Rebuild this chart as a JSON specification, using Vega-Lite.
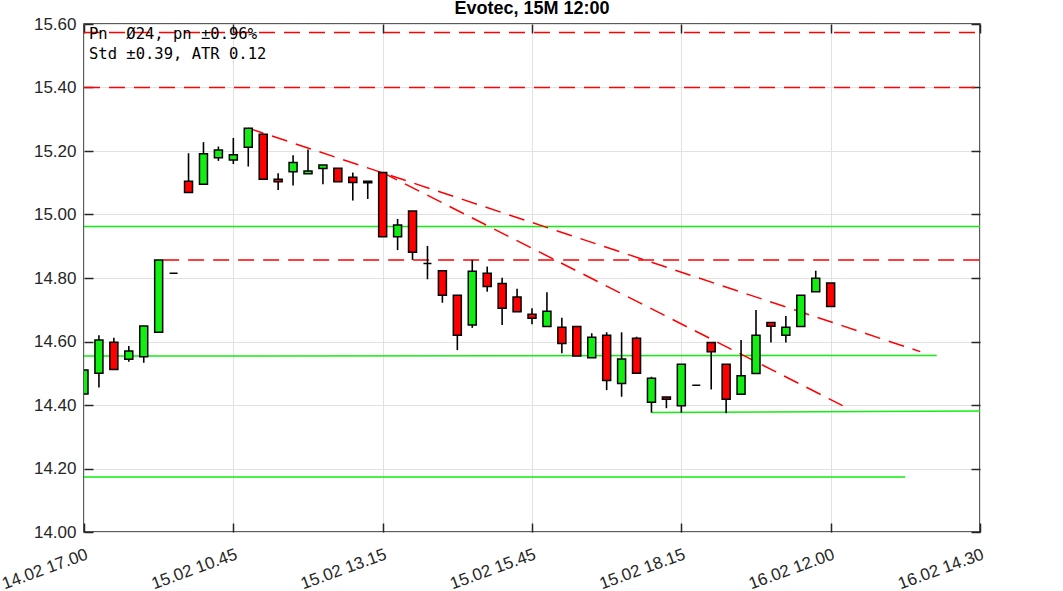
{
  "$schema": "https://vega.github.io/schema/vega-lite/v6.json",
  "autosize": "none",
  "width": 896,
  "height": 508,
  "padding": {"left": 84, "top": 24, "right": 83, "bottom": 59},
  "background": "white",
  "config": {
    "view": {"stroke": "#262626", "strokeWidth": 1.5},
    "axis": {"labelFont": "Liberation Sans", "labelFontSize": 17, "labelColor": "#262626", "tickColor": "#262626", "tickWidth": 1.5, "domain": false, "gridColor": "#e2e2e2", "gridWidth": 1, "title": null}
  },
  "title": {"text": "Evotec, 15M 12:00", "font": "Liberation Sans", "fontSize": 18, "fontWeight": "bold", "color": "black", "anchor": "middle", "offset": -3},
  "datasets": {
    "candles": [
      {"i": 0, "o": 14.435, "h": 14.51, "l": 14.435, "c": 14.51},
      {"i": 1, "o": 14.50, "h": 14.62, "l": 14.455, "c": 14.605},
      {"i": 2, "o": 14.598, "h": 14.612, "l": 14.512, "c": 14.512},
      {"i": 3, "o": 14.544, "h": 14.586, "l": 14.536, "c": 14.57},
      {"i": 4, "o": 14.552, "h": 14.649, "l": 14.533, "c": 14.649},
      {"i": 5, "o": 14.629, "h": 14.857, "l": 14.629, "c": 14.857},
      {"i": 6, "o": 14.815, "h": 14.815, "l": 14.815, "c": 14.815},
      {"i": 7, "o": 15.105, "h": 15.193, "l": 15.069, "c": 15.069},
      {"i": 8, "o": 15.095, "h": 15.228, "l": 15.095, "c": 15.191},
      {"i": 9, "o": 15.179, "h": 15.214, "l": 15.169, "c": 15.203},
      {"i": 10, "o": 15.172, "h": 15.241, "l": 15.159, "c": 15.188},
      {"i": 11, "o": 15.212, "h": 15.272, "l": 15.151, "c": 15.272},
      {"i": 12, "o": 15.253, "h": 15.253, "l": 15.111, "c": 15.111},
      {"i": 13, "o": 15.111, "h": 15.130, "l": 15.077, "c": 15.103},
      {"i": 14, "o": 15.135, "h": 15.187, "l": 15.091, "c": 15.164},
      {"i": 15, "o": 15.128, "h": 15.205, "l": 15.128, "c": 15.137},
      {"i": 16, "o": 15.145, "h": 15.156, "l": 15.095, "c": 15.156},
      {"i": 17, "o": 15.146, "h": 15.146, "l": 15.103, "c": 15.103},
      {"i": 18, "o": 15.117, "h": 15.132, "l": 15.044, "c": 15.101},
      {"i": 19, "o": 15.105, "h": 15.105, "l": 15.049, "c": 15.100},
      {"i": 20, "o": 15.132, "h": 15.132, "l": 14.930, "c": 14.930},
      {"i": 21, "o": 14.930, "h": 14.986, "l": 14.888, "c": 14.967},
      {"i": 22, "o": 15.011, "h": 15.011, "l": 14.857, "c": 14.881},
      {"i": 23, "o": 14.846, "h": 14.901, "l": 14.796, "c": 14.846},
      {"i": 24, "o": 14.823, "h": 14.823, "l": 14.722, "c": 14.746},
      {"i": 25, "o": 14.746, "h": 14.746, "l": 14.573, "c": 14.620},
      {"i": 26, "o": 14.652, "h": 14.857, "l": 14.643, "c": 14.821},
      {"i": 27, "o": 14.815, "h": 14.836, "l": 14.757, "c": 14.773},
      {"i": 28, "o": 14.783, "h": 14.801, "l": 14.652, "c": 14.705},
      {"i": 29, "o": 14.740, "h": 14.766, "l": 14.694, "c": 14.694},
      {"i": 30, "o": 14.686, "h": 14.705, "l": 14.654, "c": 14.673},
      {"i": 31, "o": 14.647, "h": 14.755, "l": 14.647, "c": 14.695},
      {"i": 32, "o": 14.645, "h": 14.675, "l": 14.563, "c": 14.594},
      {"i": 33, "o": 14.647, "h": 14.647, "l": 14.554, "c": 14.554},
      {"i": 34, "o": 14.549, "h": 14.626, "l": 14.549, "c": 14.613},
      {"i": 35, "o": 14.620, "h": 14.629, "l": 14.447, "c": 14.477},
      {"i": 36, "o": 14.468, "h": 14.629, "l": 14.426, "c": 14.545},
      {"i": 37, "o": 14.610, "h": 14.615, "l": 14.500, "c": 14.500},
      {"i": 38, "o": 14.409, "h": 14.489, "l": 14.376, "c": 14.484},
      {"i": 39, "o": 14.425, "h": 14.425, "l": 14.390, "c": 14.418},
      {"i": 40, "o": 14.398, "h": 14.528, "l": 14.376, "c": 14.528},
      {"i": 41, "o": 14.462, "h": 14.462, "l": 14.462, "c": 14.462},
      {"i": 42, "o": 14.597, "h": 14.597, "l": 14.449, "c": 14.568},
      {"i": 43, "o": 14.528, "h": 14.528, "l": 14.374, "c": 14.418},
      {"i": 44, "o": 14.434, "h": 14.605, "l": 14.434, "c": 14.492},
      {"i": 45, "o": 14.499, "h": 14.699, "l": 14.499, "c": 14.620},
      {"i": 46, "o": 14.660, "h": 14.660, "l": 14.597, "c": 14.648},
      {"i": 47, "o": 14.620, "h": 14.680, "l": 14.597, "c": 14.645},
      {"i": 48, "o": 14.647, "h": 14.746, "l": 14.647, "c": 14.746},
      {"i": 49, "o": 14.757, "h": 14.823, "l": 14.757, "c": 14.799},
      {"i": 50, "o": 14.784, "h": 14.784, "l": 14.710, "c": 14.710}
    ],
    "greenLines": [
      {"id": "g1", "i": 0, "p": 14.962}, {"id": "g1", "i": 60, "p": 14.962},
      {"id": "g2", "i": 0, "p": 14.554}, {"id": "g2", "i": 57.1, "p": 14.556},
      {"id": "g3", "i": 38, "p": 14.376}, {"id": "g3", "i": 60, "p": 14.381},
      {"id": "g4", "i": 0, "p": 14.173}, {"id": "g4", "i": 55.0, "p": 14.173}
    ],
    "redLines": [
      {"id": "r1", "i": 0, "p": 15.573}, {"id": "r1", "i": 60, "p": 15.573},
      {"id": "r2", "i": 0, "p": 15.40}, {"id": "r2", "i": 60, "p": 15.40},
      {"id": "r3", "i": 5.3, "p": 14.857}, {"id": "r3", "i": 60, "p": 14.857},
      {"id": "r4", "i": 11, "p": 15.272}, {"id": "r4", "i": 56, "p": 14.568},
      {"id": "r5", "i": 20, "p": 15.132}, {"id": "r5", "i": 50.8, "p": 14.398}
    ],
    "note": [{"label": "Pn\u00a0\u00a0Ø24, pn ±0.96%\nStd ±0.39, ATR 0.12"}]
  },
  "resolve": {"axis": {"x": "independent", "y": "independent"}},
  "layer": [
    {
      "data": {"name": "greenLines"},
      "mark": {"type": "line", "color": "#11ee11", "strokeWidth": 1.5, "clip": true},
      "encoding": {
        "x": {"field": "i", "type": "quantitative", "scale": {"domain": [0, 60], "nice": false, "zero": false, "padding": 0}, "axis": {"orient": "bottom", "values": [0, 10, 20, 30, 40, 50, 60], "grid": true, "ticks": false, "labels": false}},
        "y": {"field": "p", "type": "quantitative", "scale": {"domain": [14, 15.6], "nice": false, "zero": false, "padding": 0}, "axis": {"orient": "left", "values": [14, 14.2, 14.4, 14.6, 14.8, 15, 15.2, 15.4, 15.6], "grid": true, "ticks": false, "labels": false}},
        "detail": {"field": "id"}
      }
    },
    {
      "data": {"name": "redLines"},
      "mark": {"type": "line", "color": "#ff0000", "strokeWidth": 1.5, "strokeDash": [16, 9], "clip": true},
      "encoding": {
        "x": {"field": "i", "type": "quantitative", "axis": null},
        "y": {"field": "p", "type": "quantitative", "axis": null},
        "detail": {"field": "id"}
      }
    },
    {
      "data": {"name": "candles"},
      "mark": {"type": "rule", "color": "black", "strokeWidth": 1.6, "clip": true},
      "encoding": {
        "x": {"field": "i", "type": "quantitative", "axis": {"orient": "bottom", "values": [0, 10, 20, 30, 40, 50, 60], "grid": false, "offset": -9, "tickSize": 9, "labelPadding": 14, "labelAngle": -20, "labelAlign": "right", "labelBaseline": "top", "labelExpr": "datum.value == 0 ? '14.02 17.00' : datum.value == 10 ? '15.02 10.45' : datum.value == 20 ? '15.02 13.15' : datum.value == 30 ? '15.02 15.45' : datum.value == 40 ? '15.02 18.15' : datum.value == 50 ? '16.02 12.00' : '16.02 14.30'"}},
        "y": {"field": "l", "type": "quantitative", "axis": {"orient": "left", "values": [14, 14.2, 14.4, 14.6, 14.8, 15, 15.2, 15.4, 15.6], "format": ".2f", "grid": false, "offset": -9, "tickSize": 9, "labelPadding": 8}},
        "y2": {"field": "h"}
      }
    },
    {
      "data": {"name": "candles"},
      "mark": {"type": "bar", "stroke": "black", "strokeWidth": 1.5, "size": 8, "clip": true},
      "encoding": {
        "x": {"field": "i", "type": "quantitative", "axis": {"orient": "top", "values": [0, 10, 20, 30, 40, 50, 60], "grid": false, "labels": false, "offset": -9, "tickSize": 9}},
        "y": {"field": "o", "type": "quantitative", "axis": {"orient": "right", "values": [14, 14.2, 14.4, 14.6, 14.8, 15, 15.2, 15.4, 15.6], "grid": false, "labels": false, "offset": -9, "tickSize": 9}},
        "y2": {"field": "c"},
        "color": {"condition": {"test": "datum.c >= datum.o", "value": "#11ee11"}, "value": "#ff0000"}
      }
    },
    {
      "data": {"name": "note"},
      "mark": {"type": "text", "font": "DejaVu Sans Mono", "fontSize": 15.5, "color": "black", "align": "left", "baseline": "alphabetic", "dx": 5, "lineBreak": "\n", "lineHeight": 19.7},
      "encoding": {
        "x": {"datum": 0, "type": "quantitative", "axis": null},
        "y": {"datum": 15.553, "type": "quantitative", "axis": null},
        "text": {"field": "label"}
      }
    }
  ]
}
